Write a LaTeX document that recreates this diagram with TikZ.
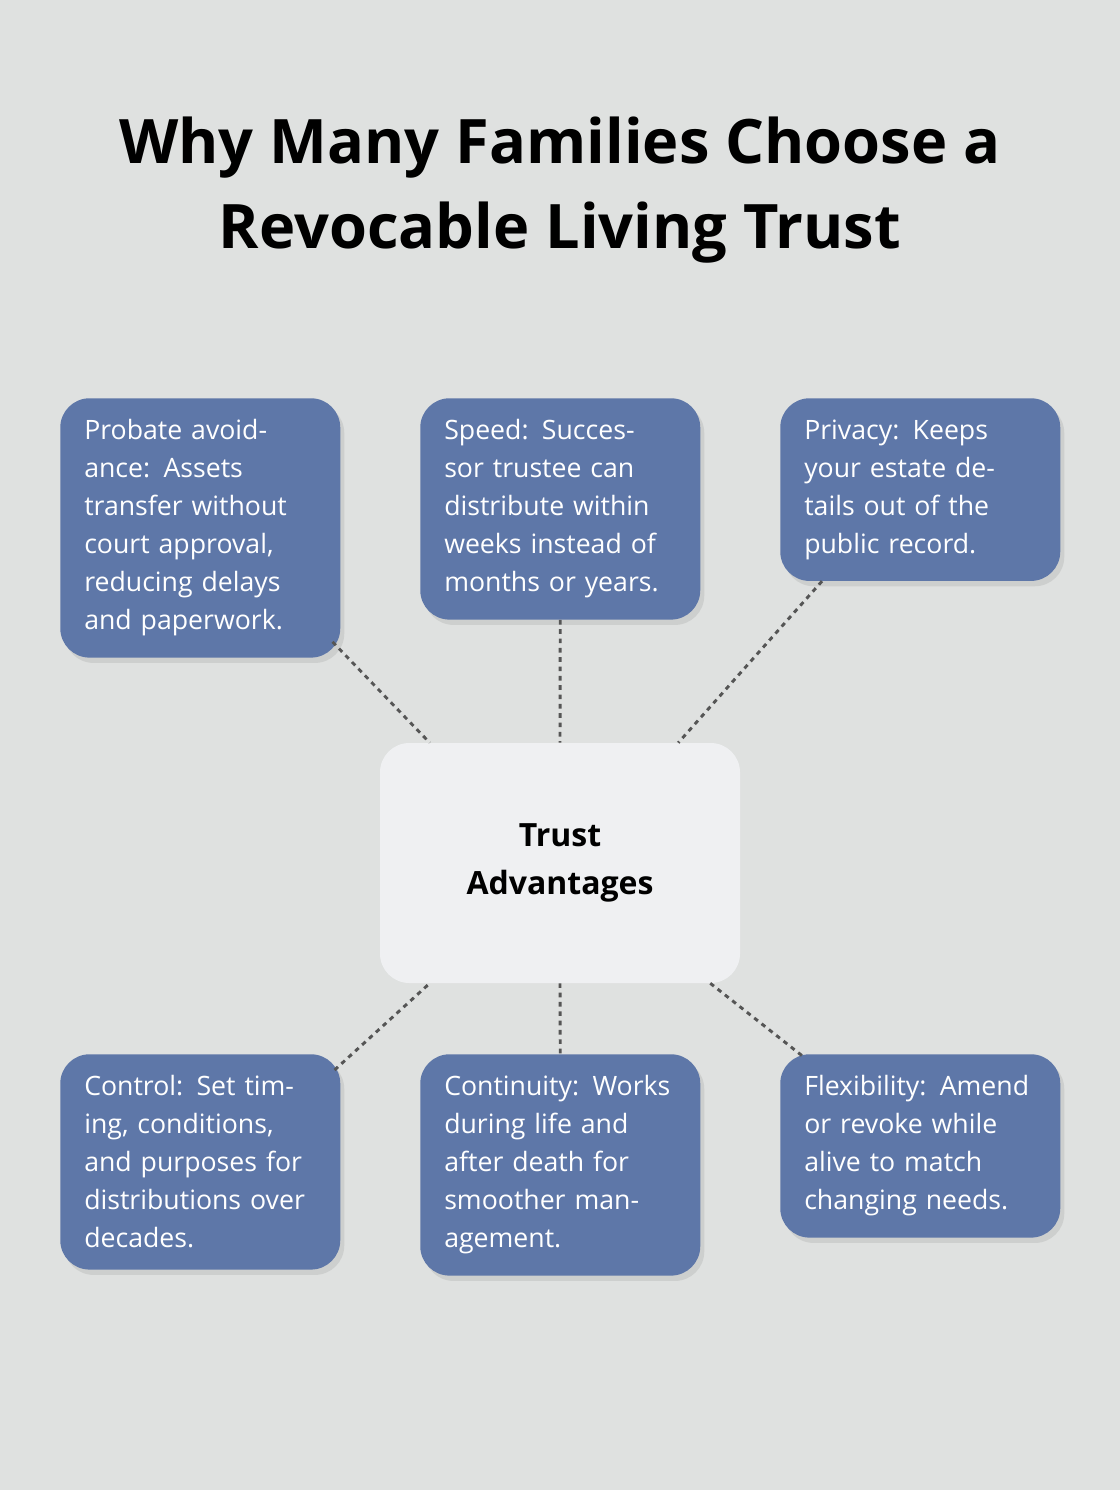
\documentclass[tikz,border=0pt]{standalone}
\usepackage{fontspec}
\setmainfont{Open Sans}
\usetikzlibrary{calc, shadows}
\definecolor{bg}{HTML}{DFE1E0}
\definecolor{card}{HTML}{5E77A8}
\definecolor{core}{HTML}{EFF0F2}
\definecolor{lnk}{HTML}{555555}

\begin{document}
\begin{tikzpicture}[x=0.75pt, y=-0.75pt,
    card/.style={fill=card, text=white, rounded corners=22pt, anchor=north west,
        text width=174pt, inner xsep=18pt, inner ysep=16pt, align=left,
        font=\fontsize{20}{28.5}\selectfont,
        drop shadow={shadow xshift=3pt, shadow yshift=-4pt, opacity=0.18}},
    link/.style={lnk, line width=2.2pt, dash pattern=on 3.5pt off 3.5pt}]
			% Background
			\fill[bg] (0,0) rectangle (1120,1490);
			\node[align=center, font=\fontsize{46}{64}\selectfont\bfseries] (title) at (560,190)
				{Why Many Families Choose a\\Revocable Living Trust};

			% Center
			\node[fill=core, rounded corners=22pt, minimum width=270pt, minimum height=180pt,
				align=center, font=\fontsize{24}{36}\selectfont\bfseries] (ctr) at (560,863)
				{Trust\\Advantages};

			% Top row
			\node[card] (tl) at (60,398) {Probate avoidance: Assets transfer without court approval, reducing delays and paperwork.};
			\node[card] (tm) at (420,398) {Speed: Successor trustee can distribute within weeks instead of months or years.};
			\node[card] (tr) at (780,398) {Privacy: Keeps your estate details out of the public record.};

			% Bottom row
			\node[card] (bl) at (60,1054) {Control: Set timing, conditions, and purposes for distributions over decades.};
			\node[card] (bm) at (420,1054) {Continuity: Works during life and after death for smoother management.};
			\node[card] (br) at (780,1054) {Flexibility: Amend or revoke while alive to match changing needs.};

			% Links
			\draw[link] ($(tl.south east)+(-8,-16)$) -- ($(ctr.north west)+(50,0)$);
			\draw[link] (tm.south) -- (ctr.north);
			\draw[link] ($(tr.south west)+(42,0)$) -- ($(ctr.north east)+(-62,0)$);
			\draw[link] ($(bl.north east)+(-6,16)$) -- ($(ctr.south west)+(50,0)$);
			\draw[link] (ctr.south) -- (bm.north);
			\draw[link] ($(ctr.south east)+(-30,0)$) -- ($(br.north west)+(25,4)$);
\end{tikzpicture}
\end{document}
